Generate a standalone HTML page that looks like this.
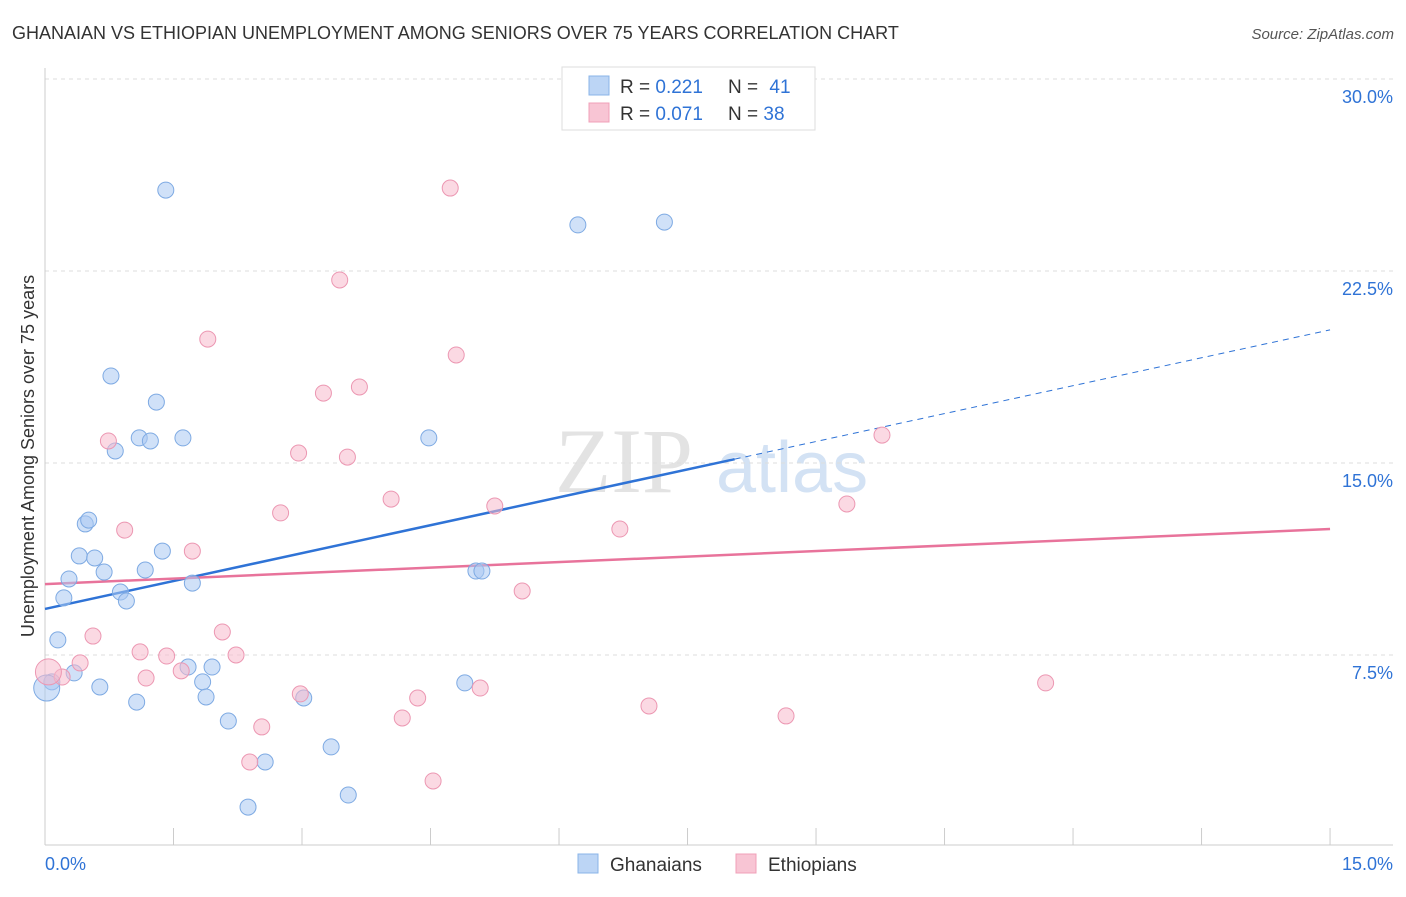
<!DOCTYPE html>
<html><head><meta charset="utf-8"><style>
body{margin:0;background:#fff;font-family:"Liberation Sans",sans-serif;}
</style></head><body>
<svg id="chart" width="1406" height="892" xmlns="http://www.w3.org/2000/svg" font-family="Liberation Sans, sans-serif">
<text x="12" y="39" font-size="18" fill="#333">GHANAIAN VS ETHIOPIAN UNEMPLOYMENT AMONG SENIORS OVER 75 YEARS CORRELATION CHART</text>
<text x="1394" y="39" font-size="15" fill="#555" text-anchor="end" font-style="italic">Source: ZipAtlas.com</text>
<text x="555" y="492" font-size="92" fill="#e3e3e3" font-family="Liberation Serif, serif">ZIP</text>
<text x="716" y="492" font-size="72" fill="#d3e2f4">atlas</text>
<text transform="translate(34,456) rotate(-90)" font-size="18" fill="#333" text-anchor="middle">Unemployment Among Seniors over 75 years</text>
<g id="grid"></g><g id="axes"></g><g id="trend"></g><g id="pts"></g>
<g>
<rect x="562" y="67" width="253" height="63" fill="#fff" stroke="#ddd"/>
<rect x="589" y="76" width="20" height="19" fill="#bcd5f5" stroke="#8ab4e8"/>
<rect x="589" y="103" width="20" height="19" fill="#f8c5d4" stroke="#f0a0b8"/>
<text x="620" y="93" font-size="19" fill="#333">R = <tspan fill="#2f73d6">0.221</tspan></text>
<text x="728" y="93" font-size="19" fill="#333">N = <tspan fill="#2f73d6" dx="6">41</tspan></text>
<text x="620" y="120" font-size="19" fill="#333">R = <tspan fill="#2f73d6">0.071</tspan></text>
<text x="728" y="120" font-size="19" fill="#333">N = <tspan fill="#2f73d6">38</tspan></text>
</g>
<g>
<rect x="578" y="854" width="20" height="19" fill="#bcd5f5" stroke="#8ab4e8"/>
<text x="610" y="871" font-size="19" fill="#333">Ghanaians</text>
<rect x="736" y="854" width="20" height="19" fill="#f8c5d4" stroke="#f0a0b8"/>
<text x="768" y="871" font-size="19" fill="#333">Ethiopians</text>
</g>
</svg>
<script>
const yTicks=[7.5,15,22.5,30];
const yTickLabels=["7.5%","15.0%","22.5%","30.0%"];
const xLabels=["0.0%","15.0%"];
const ghX=[1.41,6.22,7.23,0.77,1.30,1.10,1.23,1.61,0.82,4.48,0.47,0.51,0.40,0.58,1.37,0.69,0.28,1.17,5.03,5.10,0.22,0.88,0.95,1.72,0.15,0.34,0.08,0.02,0.64,1.07,1.67,1.95,1.84,1.88,3.02,4.90,2.14,3.34,2.57,3.54,2.37];
const ghY=[25.66,24.30,24.41,18.40,17.38,15.98,15.86,15.98,15.47,15.98,12.62,12.77,11.37,11.29,11.56,10.74,10.47,10.82,10.78,10.78,9.73,9.96,9.61,10.31,8.09,6.80,6.45,6.21,6.25,5.66,7.03,7.03,6.45,5.86,5.82,6.41,4.92,3.91,3.32,2.03,1.56];
const etX=[4.73,3.44,1.90,4.80,3.25,3.67,0.74,2.96,3.53,9.77,4.04,5.25,9.36,2.75,0.93,6.71,1.72,5.57,0.56,2.07,1.11,1.42,2.23,0.41,0.20,1.59,1.18,0.04,2.98,5.08,4.35,11.68,7.05,4.17,8.65,2.53,2.39,4.53];
const etY=[25.74,22.15,19.84,19.22,17.73,17.97,15.86,15.39,15.23,16.09,13.59,13.32,13.40,13.05,12.38,12.42,11.56,10.00,8.24,8.40,7.62,7.46,7.50,7.19,6.64,6.88,6.60,6.84,5.98,6.21,5.82,6.41,5.51,5.04,5.12,4.69,3.32,2.58];
const ghTrend=[9.30,20.2], etTrend=[10.27,12.42], ghSolidEnd=8.05;
const X=v=>45+v*85.67, Y=v=>847-v*25.6;
const NS="http://www.w3.org/2000/svg";
function mk(t,a,p){const e=document.createElementNS(NS,t);for(const k in a)e.setAttribute(k,a[k]);p.appendChild(e);return e;}
const grid=document.getElementById('grid'),axes=document.getElementById('axes'),trend=document.getElementById('trend'),pts=document.getElementById('pts');
yTicks.forEach((t,i)=>{
 const l=mk('line',{x1:45,x2:1393,y1:Y(t),y2:Y(t),stroke:'#ddd','stroke-dasharray':'4,4'},grid);
 
 
 const tx=mk('text',{x:1393,y:Y(t)+24,'font-size':18,fill:'#2f73d6','text-anchor':'end'},grid);
 tx.textContent=yTickLabels[i];
 
 
});
const ax=mk('line',{x1:45,x2:1393,y1:845,y2:845,stroke:'#ccc'},axes);


const ay=mk('line',{x1:45,x2:45,y1:68,y2:845,stroke:'#ccc'},axes);


for(let i=0;i<=10;i++){
 const t=mk('line',{x1:X(i*1.5),x2:X(i*1.5),y1:828,y2:845,stroke:'#ccc'},axes);
 
 
}
[[0,'start',45],[15,'end',1393]].forEach((d,i)=>{
 const t=mk('text',{x:d[2],y:870,'font-size':18,fill:'#2f73d6','text-anchor':d[1]},axes);
 t.textContent=xLabels[i];
 
 
});
const gy=x=>ghTrend[0]+(ghTrend[1]-ghTrend[0])*x/15;
const l1=mk('line',{x1:X(0),y1:Y(gy(0)),x2:X(ghSolidEnd),y2:Y(gy(ghSolidEnd)),stroke:'#2f73d6','stroke-width':2.5},trend);


const l2=mk('line',{x1:X(ghSolidEnd),y1:Y(gy(ghSolidEnd)),x2:X(15),y2:Y(gy(15)),stroke:'#2f73d6','stroke-width':1,'stroke-dasharray':'6,5'},trend);


const l3=mk('line',{x1:X(0),y1:Y(etTrend[0]),x2:X(15),y2:Y(etTrend[1]),stroke:'#e8739b','stroke-width':2.5},trend);


function dots(xs,ys,fill,stroke,name){
 xs.forEach((x,i)=>{
  const r=(x<0.05)?13:8;
  const c=mk('circle',{cx:X(x),cy:Y(ys[i]),r:r,fill:fill,'fill-opacity':0.55,stroke:stroke,'stroke-width':1},pts);
  
  
 });
}
dots(ghX,ghY,'#a9c9f2','#7eaae3','ghanaian-point');
dots(etX,etY,'#f7b9cc','#ec97b2','ethiopian-point');
</script>
</body></html>
